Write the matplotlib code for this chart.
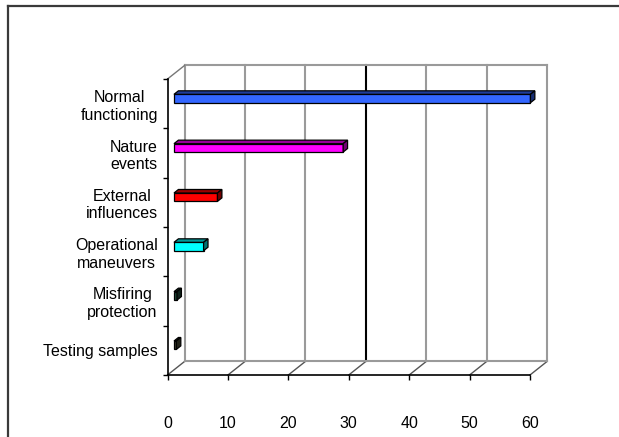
import matplotlib
matplotlib.use("Agg")
import matplotlib.pyplot as plt
from matplotlib.patches import Polygon
from matplotlib.lines import Line2D
import matplotlib.colors as mcolors

plt.rcParams['font.family'] = ['Liberation Sans', 'DejaVu Sans']

# data
categories = ["Normal\nfunctioning", "Nature\nevents", "External\ninfluences",
              "Operational\nmaneuvers", "Misfiring\nprotection", "Testing samples"]
values = [59.0, 28.0, 7.2, 4.9, 0.5, 0.4]
colors = ["#3366FF", "#FF00FF", "#FF0000", "#00FFFF", "#1E4A3A", "#4A4A33"]
xticks = [0, 10, 20, 30, 40, 50, 60]

W, H = 619, 437
fig = plt.figure(figsize=(W / 100, H / 100), dpi=100)
ax = fig.add_axes([167.5 / W, 62 / H, 362.5 / W, 296 / H])
ax.set_xlim(0, 60)
ax.set_ylim(-0.5, len(categories) - 0.5)

# 3d depth of the plot box, in data units
DX = 2.82
DY = 0.274
ylo, yhi = -0.5, len(categories) - 0.5

# back wall + floor
for k in xticks:
    c = "black" if k == 30 else "#9a9a9a"
    ax.add_line(Line2D([k + DX, k + DX], [ylo + DY, yhi + DY], color=c,
                       lw=1.5, clip_on=False, zorder=1))
    ax.add_line(Line2D([k, k + DX], [ylo, ylo + DY], color="#555555",
                       lw=1, clip_on=False, zorder=1))
ax.add_line(Line2D([DX, 60 + DX], [yhi + DY, yhi + DY], color="#9a9a9a",
                   lw=1.5, clip_on=False, zorder=1))
ax.add_line(Line2D([DX, 60 + DX], [ylo + DY, ylo + DY], color="#9a9a9a",
                   lw=1.5, clip_on=False, zorder=1))
ax.add_line(Line2D([0, DX], [yhi, yhi + DY], color="#777777",
                   lw=1, clip_on=False, zorder=1))

# bars as boxes
d0, dd, bh = 0.38, 0.26, 0.17
for i, (v, col) in enumerate(zip(values, colors)):
    c = len(categories) - 1 - i
    x0 = d0 * DX
    x1 = v + d0 * DX
    y0 = c - bh / 2 + d0 * DY
    y1 = c + bh / 2 + d0 * DY
    rgb = mcolors.to_rgb(col)
    top = tuple(0.6 * t for t in rgb)
    side = tuple(0.45 * t for t in rgb)
    faces = [
        ([(x0, y0), (x1, y0), (x1, y1), (x0, y1)], rgb),
        ([(x0, y1), (x1, y1), (x1 + dd * DX, y1 + dd * DY),
          (x0 + dd * DX, y1 + dd * DY)], top),
        ([(x1, y0), (x1 + dd * DX, y0 + dd * DY),
          (x1 + dd * DX, y1 + dd * DY), (x1, y1)], side),
    ]
    for pts, fc in faces:
        ax.add_patch(Polygon(pts, closed=True, facecolor=fc, edgecolor="black",
                             lw=0.9, clip_on=False, zorder=3))

# axes
for s in ["top", "right"]:
    ax.spines[s].set_visible(False)
for s in ["left", "bottom"]:
    ax.spines[s].set_color("black")
    ax.spines[s].set_linewidth(1.2)
    ax.spines[s].set_zorder(4)

ax.set_xticks(xticks)
ax.set_xticklabels([str(t) for t in xticks], fontsize=11.5)
ax.tick_params(axis="x", direction="out", length=3.5, width=1, pad=26)

edges = [k - 0.5 for k in range(len(categories) + 1)]
ax.set_yticks(edges)
ax.set_yticklabels([])
ax.set_yticks(range(len(categories)), labels=categories[::-1], minor=True)
ax.tick_params(axis="y", which="major", direction="out", length=3.5, width=1)
ax.tick_params(axis="y", which="minor", length=0, pad=7, labelsize=11.5)
for t in ax.get_yticklabels(minor=True):
    t.set_multialignment("center")

ax.patch.set_visible(False)

# outer frame
fig.add_artist(Line2D([8 / W, 8 / W], [0, 1 - 6 / H], color="#3a3a3a", lw=1.6))
fig.add_artist(Line2D([8 / W, 1], [1 - 6 / H, 1 - 6 / H], color="#3a3a3a", lw=1.6))

fig.savefig("out.png", dpi=100)
